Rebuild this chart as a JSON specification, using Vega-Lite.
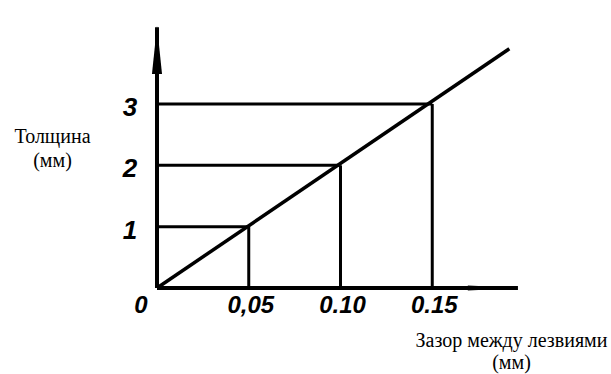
{
  "$schema": "https://vega.github.io/schema/vega-lite/v6.json",
  "width": 367,
  "height": 276,
  "autosize": {"type": "none"},
  "padding": {"left": 157, "top": 12, "right": 87, "bottom": 86},
  "background": "white",
  "config": {"view": {"stroke": null}},
  "datasets": {
    "points": [
      {"gap": 0.05, "thick": 1, "zero": 0},
      {"gap": 0.10, "thick": 2, "zero": 0},
      {"gap": 0.15, "thick": 3, "zero": 0}
    ],
    "fit": [
      {"gap": 0, "thick": 0},
      {"gap": 0.192, "thick": 3.9}
    ],
    "axes": [
      {"x": 0, "y": 0, "x2": 0, "y2": 4.25},
      {"x": 0, "y": 0, "x2": 0.1967, "y2": 0}
    ],
    "yarrow": [{"x": 0, "y": 3.88}],
    "xarrow": [{"x": 0.183, "y": 0}],
    "xlabels": [
      {"gap": 0.05, "label": "0,05"},
      {"gap": 0.10, "label": "0.10"},
      {"gap": 0.15, "label": "0.15"}
    ],
    "origin": [{"gap": 0, "thick": 0, "label": "0"}],
    "ylabels": [
      {"thick": 1, "label": "1"},
      {"thick": 2, "label": "2"},
      {"thick": 3, "label": "3"}
    ]
  },
  "layer": [
    {
      "data": {"name": "axes"},
      "mark": {"type": "rule", "color": "black", "strokeWidth": 4},
      "encoding": {
        "x": {"field": "x", "type": "quantitative", "scale": {"domain": [0, 0.2]},
          "axis": {"title": ["Зазор между лезвиями", "(мм)"], "labels": false, "ticks": false, "domain": false, "grid": false,
            "titleFont": "Liberation Serif", "titleFontSize": 20, "titleFontWeight": "normal", "titleColor": "black",
            "titleAlign": "center", "titleBaseline": "alphabetic", "titleX": 354, "titleY": 58, "titleLineHeight": 22}},
        "y": {"field": "y", "type": "quantitative", "scale": {"domain": [0, 4.25]},
          "axis": {"title": ["Толщина", "(мм)"], "labels": false, "ticks": false, "domain": false, "grid": false,
            "titleFont": "Liberation Serif", "titleFontSize": 20, "titleFontWeight": "normal", "titleColor": "black",
            "titleAngle": 0, "titleAlign": "center", "titleBaseline": "alphabetic", "titleX": -105, "titleY": 130, "titleLineHeight": 24}},
        "x2": {"field": "x2"},
        "y2": {"field": "y2"}
      }
    },
    {
      "data": {"name": "yarrow"},
      "mark": {"type": "point", "shape": "M0,-1L0.21,1L-0.21,1Z", "filled": true, "color": "black", "size": 2304, "opacity": 1},
      "encoding": {
        "x": {"field": "x", "type": "quantitative"},
        "y": {"field": "y", "type": "quantitative"}
      }
    },
    {
      "data": {"name": "xarrow"},
      "mark": {"type": "point", "shape": "M1,0L-1,-0.1L-1,0.1Z", "filled": true, "color": "black", "size": 2500, "opacity": 1},
      "encoding": {
        "x": {"field": "x", "type": "quantitative"},
        "y": {"field": "y", "type": "quantitative"}
      }
    },
    {
      "data": {"name": "points"},
      "mark": {"type": "rule", "color": "black", "strokeWidth": 3},
      "encoding": {
        "x": {"field": "zero", "type": "quantitative"},
        "x2": {"field": "gap"},
        "y": {"field": "thick", "type": "quantitative"}
      }
    },
    {
      "data": {"name": "points"},
      "mark": {"type": "rule", "color": "black", "strokeWidth": 3},
      "encoding": {
        "x": {"field": "gap", "type": "quantitative"},
        "y": {"field": "zero", "type": "quantitative"},
        "y2": {"field": "thick"}
      }
    },
    {
      "data": {"name": "fit"},
      "mark": {"type": "line", "color": "black", "strokeWidth": 3.5},
      "encoding": {
        "x": {"field": "gap", "type": "quantitative"},
        "y": {"field": "thick", "type": "quantitative"}
      }
    },
    {
      "data": {"name": "xlabels"},
      "mark": {"type": "text", "font": "Liberation Sans", "fontStyle": "italic", "fontWeight": "bold", "fontSize": 24, "dy": 18, "dx": 2, "baseline": "middle", "align": "center", "color": "black"},
      "encoding": {
        "x": {"field": "gap", "type": "quantitative"},
        "y": {"datum": 0, "type": "quantitative"},
        "text": {"field": "label"}
      }
    },
    {
      "data": {"name": "origin"},
      "mark": {"type": "text", "font": "Liberation Sans", "fontStyle": "italic", "fontWeight": "bold", "fontSize": 24, "dy": 18, "dx": -16, "baseline": "middle", "align": "center", "color": "black"},
      "encoding": {
        "x": {"field": "gap", "type": "quantitative"},
        "y": {"field": "thick", "type": "quantitative"},
        "text": {"field": "label"}
      }
    },
    {
      "data": {"name": "ylabels"},
      "mark": {"type": "text", "font": "Liberation Sans", "fontStyle": "italic", "fontWeight": "bold", "fontSize": 26, "dy": 4, "dx": -27, "baseline": "middle", "align": "center", "color": "black"},
      "encoding": {
        "x": {"datum": 0, "type": "quantitative"},
        "y": {"field": "thick", "type": "quantitative"},
        "text": {"field": "label"}
      }
    }
  ]
}
